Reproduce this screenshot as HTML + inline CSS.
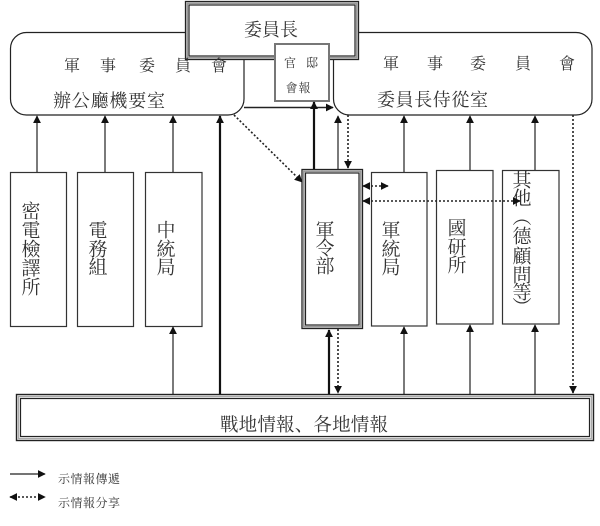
<!DOCTYPE html>
<html>
<head>
<meta charset="utf-8">
<style>
html,body{margin:0;padding:0;background:#fff;}
svg{display:block;}
text{font-family:"Liberation Serif","Noto Serif CJK SC","Noto Sans CJK TC",serif;fill:#333;}
</style>
</head>
<body>
<svg width="600" height="526" viewBox="0 0 600 526" xmlns="http://www.w3.org/2000/svg">
<defs>
<marker id="ah" viewBox="0 0 10 10" refX="9" refY="5" markerWidth="8" markerHeight="8" markerUnits="userSpaceOnUse" orient="auto">
<path d="M0,0 L10,5 L0,10 z" fill="#111"/>
</marker>
<marker id="ahs" viewBox="0 0 10 10" refX="1" refY="5" markerWidth="8" markerHeight="8" markerUnits="userSpaceOnUse" orient="auto">
<path d="M10,0 L0,5 L10,10 z" fill="#111"/>
</marker>
</defs>

<!-- rounded boxes -->
<rect x="10.5" y="32.5" width="233.5" height="82.5" rx="16" fill="#fff" stroke="#222" stroke-width="1.2"/>
<rect x="333.5" y="32.5" width="258.5" height="82.5" rx="16" fill="#fff" stroke="#222" stroke-width="1.2"/>

<!-- 委員長 triple box -->
<rect x="185.5" y="1.5" width="173" height="58" fill="#fff" stroke="#222" stroke-width="1.3"/>
<rect x="187.3" y="3.3" width="169.4" height="54.4" fill="none" stroke="#999" stroke-width="1.6"/>
<rect x="189" y="5" width="166" height="51" fill="#fff" stroke="#222" stroke-width="1.2"/>
<text x="271" y="36" font-size="18" text-anchor="middle" textLength="54">委員長</text>

<!-- 官邸會報 -->
<rect x="275" y="44" width="54" height="57" fill="#fff" stroke="#777" stroke-width="2"/>
<text x="290" y="67" font-size="12" text-anchor="middle">官</text>
<text x="312" y="67" font-size="12" text-anchor="middle">邸</text>
<text x="298" y="92" font-size="12" text-anchor="middle" textLength="25">會報</text>

<!-- left box text -->
<g font-size="16" text-anchor="middle">
<text x="72" y="71">軍</text><text x="108" y="71">事</text><text x="147" y="71">委</text><text x="183" y="71">員</text><text x="219" y="71">會</text>
<text x="391" y="69">軍</text><text x="435" y="69">事</text><text x="478" y="69">委</text><text x="523" y="69">員</text><text x="567" y="69">會</text>
</g>
<text x="53" y="107" font-size="18" textLength="112">辦公廳機要室</text>
<text x="377" y="106" font-size="18" textLength="111">委員長侍從室</text>

<!-- vertical boxes left -->
<rect x="10.5" y="172.5" width="56" height="154" fill="#fff" stroke="#333" stroke-width="1.2"/>
<rect x="77.5" y="172.5" width="56" height="154" fill="#fff" stroke="#333" stroke-width="1.2"/>
<rect x="145.5" y="172.5" width="56.5" height="154" fill="#fff" stroke="#333" stroke-width="1.2"/>

<g font-size="19" text-anchor="middle" dominant-baseline="central">
<text x="31" y="212">密</text><text x="31" y="231">電</text><text x="31" y="250">檢</text><text x="31" y="269">譯</text><text x="31" y="288">所</text>
<text x="98" y="231">電</text><text x="98" y="250">務</text><text x="98" y="268">組</text>
<text x="166" y="231">中</text><text x="166" y="250">統</text><text x="166" y="268">局</text>
</g>

<!-- 軍令部 triple box -->
<rect x="302" y="169.5" width="60.5" height="159" fill="#fff" stroke="#222" stroke-width="1.3"/>
<rect x="303.8" y="171.3" width="56.9" height="155.4" fill="none" stroke="#999" stroke-width="1.6"/>
<rect x="305.5" y="173" width="53.5" height="152" fill="#fff" stroke="#222" stroke-width="1.2"/>

<rect x="371.5" y="172.5" width="55.5" height="153.5" fill="#fff" stroke="#333" stroke-width="1.2"/>
<rect x="436.5" y="170.5" width="56.5" height="153.5" fill="#fff" stroke="#333" stroke-width="1.2"/>
<rect x="502.5" y="170.5" width="56.5" height="153.5" fill="#fff" stroke="#333" stroke-width="1.2"/>

<g font-size="19" text-anchor="middle" dominant-baseline="central">
<text x="325" y="231">軍</text><text x="325" y="249">令</text><text x="325" y="267">部</text>
<text x="391" y="231">軍</text><text x="391" y="250">統</text><text x="391" y="268">局</text>
<text x="457" y="229">國</text><text x="457" y="248">研</text><text x="457" y="266">所</text>
<text x="522" y="181">其</text><text x="522" y="199">他</text><text x="522" y="218">︵</text><text x="522" y="237">德</text><text x="522" y="257">顧</text><text x="522" y="276">問</text><text x="522" y="293">等</text><text x="522" y="308">︶</text>
</g>

<!-- bottom box -->
<rect x="16.5" y="394.5" width="577" height="46" fill="#fff" stroke="#222" stroke-width="1.4"/>
<rect x="18.5" y="396.5" width="573" height="42" fill="none" stroke="#aaa" stroke-width="1.4"/>
<rect x="20.5" y="398.5" width="569" height="38" fill="#fff" stroke="#222" stroke-width="1.2"/>
<text x="220" y="431" font-size="18.5" textLength="168">戰地情報、各地情報</text>

<!-- connectors: solid -->
<g stroke="#222" stroke-width="1.2" fill="none">
<line x1="37" y1="172" x2="37" y2="116" marker-end="url(#ah)"/>
<line x1="105" y1="172" x2="105" y2="116" marker-end="url(#ah)"/>
<line x1="173" y1="172" x2="173" y2="116" marker-end="url(#ah)"/>
<line x1="173" y1="394" x2="173" y2="327" marker-end="url(#ah)"/>
<line x1="404" y1="172" x2="404" y2="116" marker-end="url(#ah)"/>
<line x1="470" y1="170" x2="470" y2="116" marker-end="url(#ah)"/>
<line x1="535" y1="170" x2="535" y2="116" marker-end="url(#ah)"/>
<line x1="404" y1="394" x2="404" y2="327" marker-end="url(#ah)"/>
<line x1="470" y1="394" x2="470" y2="325" marker-end="url(#ah)"/>
<line x1="535" y1="394" x2="535" y2="325" marker-end="url(#ah)"/>
<line x1="338" y1="169" x2="338" y2="116" marker-end="url(#ah)"/>
<line x1="244" y1="107.5" x2="333" y2="107.5" stroke-width="1.6" marker-end="url(#ah)"/>
</g>
<g stroke="#111" stroke-width="2.2" fill="none">
<line x1="220" y1="394" x2="220" y2="116" marker-end="url(#ah)"/>
<line x1="314" y1="169" x2="314" y2="102" marker-end="url(#ah)"/>
<line x1="329" y1="394" x2="329" y2="330" marker-end="url(#ah)"/>
</g>

<!-- connectors: dotted -->
<g stroke="#222" stroke-width="1.6" fill="none" stroke-dasharray="2,2">
<line x1="234" y1="115" x2="302" y2="182" marker-end="url(#ah)"/>
<line x1="348" y1="115" x2="348" y2="168" marker-end="url(#ah)"/>
<line x1="338" y1="329" x2="338" y2="393" marker-end="url(#ah)"/>
<line x1="573" y1="115" x2="573" y2="393" marker-end="url(#ah)"/>
<line x1="363" y1="186" x2="388" y2="186" marker-start="url(#ahs)" marker-end="url(#ah)"/>
<line x1="363" y1="201" x2="520" y2="201" marker-start="url(#ahs)" marker-end="url(#ah)"/>
<line x1="10" y1="497" x2="45" y2="497" marker-start="url(#ahs)" marker-end="url(#ah)"/>
</g>

<!-- legend -->
<line x1="10" y1="474" x2="45" y2="474" stroke="#222" stroke-width="1.3" marker-end="url(#ah)"/>
<text x="58" y="483" font-size="12" textLength="62">示情報傳遞</text>
<text x="58" y="507" font-size="12" textLength="62">示情報分享</text>
</svg>
</body>
</html>
